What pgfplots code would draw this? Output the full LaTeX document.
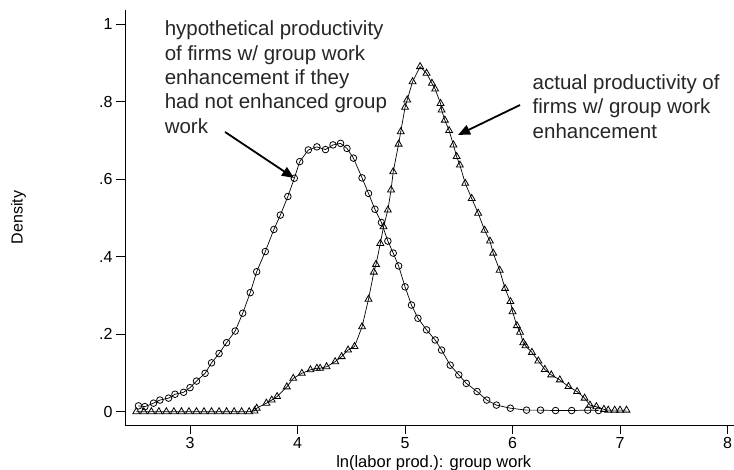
\documentclass[border=0pt]{standalone}
\usepackage{fontspec}
\setmainfont{Liberation Sans}
\usepackage{pgfplots}
\pgfplotsset{compat=1.18}
\usetikzlibrary{arrows.meta}
\begin{document}
\begin{tikzpicture}
\begin{axis}[
 at={(125pt,45pt)}, anchor=south west,
 scale only axis, width=609pt, height=415pt,
 xmin=2.395, xmax=8.06, ymin=-0.0343, ymax=1.036,
 axis x line*=bottom, axis y line*=left,
 axis line style={line width=0.8pt, -},
 xtick={3,4,5,6,7,8}, xticklabels={3,4,5,6,7,8},
 ytick={0,0.2,0.4,0.6,0.8,1}, yticklabels={0,.2,.4,.6,.8,1},
 tick align=outside, major tick length=9pt,
 tick style={line width=0.8pt, black},
 tick label style={font=\fontsize{16}{19}\selectfont},
 xlabel={ln(labor prod.): group work},
 xlabel style={font=\fontsize{16.5}{20}\selectfont, at={(axis description cs:0.507,-0.0916)}, anchor=center},
 ylabel={Density},
 ylabel style={font=\fontsize{16}{19}\selectfont, at={(axis description cs:-0.175,0.5)}, anchor=center},
 clip=false,
]
\addplot[black, line width=0.7pt, mark=o, mark size=3.3pt, mark options={line width=0.8pt, fill=white}] coordinates {
(2.52,0.015) (2.58,0.013) (2.66,0.022) (2.72,0.030) (2.80,0.035) (2.86,0.045) (2.94,0.050)
(3.00,0.062) (3.06,0.079) (3.14,0.099) (3.20,0.126) (3.27,0.150) (3.34,0.178) (3.42,0.208)
(3.49,0.254) (3.56,0.307) (3.62,0.361) (3.70,0.413) (3.78,0.470) (3.84,0.507) (3.91,0.555)
(3.97,0.602) (4.02,0.645) (4.10,0.675) (4.18,0.683) (4.26,0.676) (4.33,0.688) (4.40,0.692)
(4.46,0.679) (4.52,0.654) (4.60,0.603) (4.66,0.563) (4.72,0.522) (4.78,0.488) (4.84,0.440)
(4.89,0.409) (4.94,0.376) (5.00,0.322) (5.06,0.275) (5.12,0.241) (5.20,0.211) (5.28,0.185)
(5.34,0.159) (5.42,0.120) (5.50,0.095) (5.57,0.073) (5.67,0.052) (5.76,0.030) (5.85,0.017)
(5.98,0.009) (6.13,0.004) (6.26,0.004) (6.40,0.003) (6.55,0.003) (6.70,0.004) (6.80,0.003)
};
\addplot[black, line width=0.7pt, mark=triangle, mark size=4pt, mark options={line width=0.8pt, fill=white}] coordinates {
(2.50,0) (2.57,0) (2.64,0) (2.71,0) (2.78,0) (2.85,0) (2.92,0) (2.99,0) (3.06,0) (3.13,0)
(3.20,0) (3.27,0) (3.34,0) (3.41,0) (3.48,0) (3.55,0) (3.60,0.002)
(3.62,0.009) (3.71,0.022) (3.76,0.030) (3.81,0.039) (3.90,0.064) (3.96,0.086) (4.04,0.099)
(4.12,0.108) (4.18,0.112) (4.21,0.112) (4.27,0.116) (4.35,0.129) (4.41,0.142) (4.47,0.159)
(4.53,0.168) (4.60,0.219) (4.66,0.290) (4.71,0.360) (4.73,0.380) (4.77,0.434) (4.80,0.477)
(4.84,0.520) (4.87,0.572) (4.89,0.619) (4.94,0.690) (4.96,0.722) (5.00,0.785) (5.02,0.804)
(5.07,0.851) (5.14,0.890) (5.20,0.873) (5.25,0.847) (5.28,0.832) (5.33,0.795) (5.34,0.778)
(5.37,0.752) (5.41,0.725) (5.45,0.688) (5.48,0.658) (5.51,0.636) (5.56,0.589) (5.62,0.550)
(5.68,0.512) (5.74,0.468) (5.79,0.440) (5.82,0.409) (5.88,0.365) (5.93,0.318) (5.98,0.284)
(6.00,0.258) (6.04,0.222) (6.07,0.205) (6.10,0.178) (6.12,0.170) (6.18,0.153) (6.24,0.131)
(6.30,0.109) (6.36,0.095) (6.44,0.082) (6.52,0.065) (6.60,0.052) (6.67,0.035) (6.72,0.017)
(6.78,0.013) (6.85,0.006) (6.89,0.004) (6.95,0.004) (7.00,0.004) (7.06,0.004)
};
\begin{scope}[every node/.style={anchor=base west, inner sep=0pt, font=\fontsize{20.5}{24.5}\selectfont, text=black!85}]
\node at (axis cs:2.763,0.969) {hypothetical productivity};
\node at (axis cs:2.763,0.9064) {of firms w/ group work};
\node at (axis cs:2.763,0.8437) {enhancement if they};
\node at (axis cs:2.763,0.781) {had not enhanced group};
\node at (axis cs:2.763,0.7183) {work};
\node at (axis cs:6.186,0.8316) {actual productivity of};
\node at (axis cs:6.186,0.7679) {firms w/ group work};
\node at (axis cs:6.186,0.7052) {enhancement};
\end{scope}
\draw[black, line width=1.8pt, -{Triangle[length=12pt,width=10pt]}] (axis cs:3.326,0.7214) -- (axis cs:3.967,0.6028);
\draw[black, line width=1.8pt, -{Triangle[length=12pt,width=10pt]}] (axis cs:6.070,0.791) -- (axis cs:5.493,0.7137);
\end{axis}
\pgfresetboundingbox
\useasboundingbox (0,0) rectangle (734pt,470pt);
\end{tikzpicture}
\end{document}
